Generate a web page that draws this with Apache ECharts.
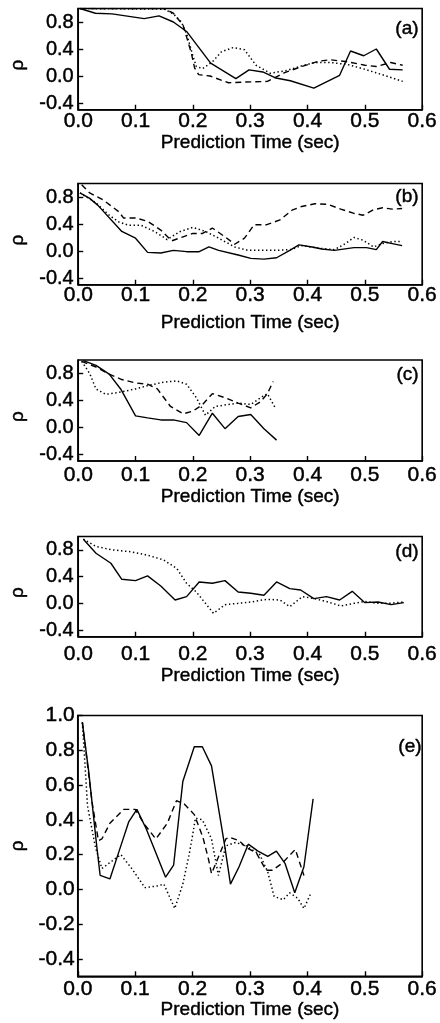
<!DOCTYPE html>
<html><head><meta charset="utf-8">
<script src="https://cdn.jsdelivr.net/npm/echarts@6/dist/echarts.min.js"></script>
<style>html,body{margin:0;padding:0;background:#fff}#c{width:440px;height:1023px}</style>
</head><body><div id="c"></div>
<script>
const panelLabels = ['(a)', '(b)', '(c)', '(d)', '(e)'];
const xAxisTitle = 'Prediction Time (sec)';
const yAxisTitle = 'ρ';
const yTicksSmall = [-0.4, 0.0, 0.4, 0.8];
const yTicksLarge = [-0.4, -0.2, 0.0, 0.2, 0.4, 0.6, 0.8, 1.0];

// Panel (a)
const aSolid = [[0.003,1.0],[0.03,0.93],[0.059,0.92],[0.115,0.85],[0.141,0.89],[0.166,0.80],[0.189,0.66],[0.231,0.19],[0.275,-0.04],[0.298,0.09],[0.322,0.06],[0.345,-0.03],[0.37,-0.07],[0.411,-0.18],[0.456,0.01],[0.475,0.37],[0.498,0.30],[0.52,0.40],[0.543,0.10],[0.566,0.09]];
const aDash = [[0.003,1.0],[0.149,1.0],[0.166,0.93],[0.183,0.75],[0.197,0.35],[0.203,0.12],[0.21,0.02],[0.23,0.0],[0.262,-0.1],[0.29,-0.09],[0.33,-0.08],[0.36,0.05],[0.39,0.14],[0.42,0.22],[0.44,0.24],[0.47,0.21],[0.5,0.16],[0.52,0.14],[0.545,0.2],[0.566,0.16]];
const aDot = [[0.003,1.0],[0.15,0.99],[0.166,0.92],[0.18,0.8],[0.19,0.6],[0.2,0.3],[0.206,0.14],[0.217,0.11],[0.234,0.21],[0.25,0.36],[0.27,0.42],[0.29,0.39],[0.31,0.16],[0.335,0.04],[0.363,0.08],[0.39,0.15],[0.413,0.2],[0.44,0.2],[0.47,0.17],[0.5,0.1],[0.53,0.02],[0.566,-0.08]];

// Panel (b)
const bSolid = [[0.003,0.86],[0.02,0.78],[0.034,0.68],[0.076,0.29],[0.1,0.19],[0.121,-0.02],[0.144,-0.03],[0.166,0.01],[0.189,-0.01],[0.211,-0.01],[0.228,0.06],[0.245,0.01],[0.279,-0.06],[0.301,-0.11],[0.324,-0.12],[0.346,-0.1],[0.369,0.01],[0.385,0.09],[0.408,0.06],[0.425,0.03],[0.447,0.01],[0.481,0.05],[0.503,0.05],[0.52,0.02],[0.531,0.14],[0.548,0.11],[0.565,0.08]];
const bDash = [[0.006,0.98],[0.02,0.86],[0.043,0.76],[0.071,0.58],[0.079,0.49],[0.1,0.49],[0.121,0.44],[0.144,0.31],[0.163,0.15],[0.183,0.21],[0.2,0.26],[0.217,0.26],[0.234,0.34],[0.256,0.21],[0.273,0.1],[0.29,0.19],[0.307,0.39],[0.329,0.39],[0.352,0.46],[0.374,0.61],[0.39,0.66],[0.413,0.7],[0.436,0.69],[0.458,0.62],[0.48,0.56],[0.497,0.53],[0.515,0.61],[0.531,0.64],[0.548,0.62],[0.565,0.63]];
const bDot = [[0.003,0.86],[0.03,0.72],[0.054,0.53],[0.071,0.43],[0.088,0.38],[0.11,0.38],[0.133,0.29],[0.155,0.17],[0.178,0.29],[0.2,0.35],[0.222,0.29],[0.245,0.19],[0.273,0.06],[0.296,0.01],[0.324,0.01],[0.346,0.01],[0.37,0.02],[0.39,0.08],[0.42,0.04],[0.447,0.02],[0.464,0.1],[0.481,0.2],[0.497,0.16],[0.515,0.06],[0.531,0.11],[0.548,0.14],[0.565,0.14]];

// Panel (c)
const cSolid = [[0.009,0.99],[0.031,0.92],[0.054,0.79],[0.074,0.57],[0.1,0.17],[0.121,0.14],[0.144,0.11],[0.166,0.11],[0.189,0.07],[0.211,-0.12],[0.234,0.21],[0.256,-0.02],[0.279,0.16],[0.301,0.19],[0.324,-0.02],[0.346,-0.19]];
const cDash = [[0.006,0.98],[0.03,0.9],[0.054,0.79],[0.076,0.71],[0.1,0.66],[0.121,0.64],[0.138,0.57],[0.161,0.31],[0.183,0.2],[0.2,0.24],[0.217,0.34],[0.234,0.5],[0.256,0.44],[0.279,0.36],[0.301,0.29],[0.318,0.38],[0.33,0.5],[0.34,0.68]];
const cDot = [[0.006,0.98],[0.02,0.8],[0.031,0.57],[0.048,0.49],[0.071,0.52],[0.1,0.57],[0.121,0.62],[0.149,0.67],[0.172,0.69],[0.189,0.64],[0.206,0.44],[0.222,0.18],[0.239,0.31],[0.262,0.34],[0.279,0.36],[0.301,0.34],[0.318,0.44],[0.33,0.5],[0.343,0.3]];

// Panel (d)
const dSolid = [[0.009,0.96],[0.031,0.75],[0.057,0.6],[0.076,0.36],[0.1,0.34],[0.121,0.41],[0.144,0.26],[0.169,0.05],[0.189,0.1],[0.211,0.32],[0.234,0.3],[0.256,0.34],[0.279,0.17],[0.301,0.15],[0.324,0.12],[0.346,0.32],[0.369,0.22],[0.388,0.2],[0.411,0.07],[0.433,0.1],[0.456,0.05],[0.478,0.18],[0.5,0.01],[0.523,0.02],[0.546,-0.02],[0.568,0.01]];
const dDot = [[0.009,0.96],[0.031,0.85],[0.06,0.8],[0.093,0.77],[0.121,0.72],[0.149,0.65],[0.172,0.52],[0.189,0.3],[0.206,0.17],[0.222,0.0],[0.236,-0.15],[0.256,-0.02],[0.279,0.0],[0.301,0.02],[0.329,0.06],[0.352,0.05],[0.369,-0.05],[0.391,0.1],[0.413,0.07],[0.436,0.02],[0.458,-0.04],[0.481,0.0],[0.5,0.03],[0.52,0.0],[0.543,0.0],[0.568,0.02]];

// Panel (e)
const eSolid = [[0.008,0.96],[0.019,0.68],[0.033,0.25],[0.039,0.08],[0.056,0.06],[0.072,0.22],[0.089,0.39],[0.103,0.46],[0.119,0.35],[0.136,0.21],[0.153,0.07],[0.167,0.14],[0.183,0.62],[0.203,0.82],[0.217,0.82],[0.233,0.71],[0.256,0.25],[0.266,0.03],[0.281,0.13],[0.297,0.26],[0.314,0.22],[0.331,0.19],[0.346,0.22],[0.361,0.15],[0.378,-0.02],[0.394,0.13],[0.41,0.52]];
const eDash = [[0.008,0.96],[0.025,0.5],[0.036,0.28],[0.042,0.29],[0.056,0.38],[0.08,0.46],[0.1,0.46],[0.117,0.37],[0.136,0.29],[0.156,0.38],[0.172,0.51],[0.186,0.49],[0.203,0.43],[0.218,0.3],[0.228,0.17],[0.233,0.09],[0.258,0.29],[0.264,0.3],[0.281,0.28],[0.294,0.24],[0.311,0.21],[0.328,0.11],[0.339,0.11],[0.356,0.15],[0.379,0.23],[0.394,0.08]];
const eDot = [[0.008,0.96],[0.017,0.48],[0.028,0.29],[0.031,0.24],[0.042,0.12],[0.075,0.2],[0.094,0.12],[0.117,0.01],[0.139,0.02],[0.15,0.03],[0.169,-0.11],[0.183,0.03],[0.194,0.2],[0.2,0.31],[0.205,0.41],[0.217,0.4],[0.233,0.29],[0.245,0.08],[0.258,0.25],[0.275,0.27],[0.294,0.25],[0.317,0.2],[0.331,0.1],[0.342,-0.04],[0.358,-0.06],[0.369,-0.02],[0.383,-0.05],[0.394,-0.11],[0.405,-0.03]];

const FONT = "'Liberation Sans', Arial, sans-serif";
const TB = {textBorderColor:'#000', textBorderWidth:0.45};
const layout = [
  {grid:{left:68,right:16,top:8.5,height:101.25}, labelMargin:1, nameGap:17, labelTop:19, yTicks:yTicksSmall},
  {grid:{left:68,right:16,top:183.5,height:101.25}, labelMargin:0, nameGap:29, labelTop:187, yTicks:yTicksSmall},
  {grid:{left:68,right:16,top:360,height:101}, labelMargin:4, nameGap:22, labelTop:365, yTicks:yTicksSmall},
  {grid:{left:68,right:15,top:536.5,height:100.25}, labelMargin:7, nameGap:28, labelTop:542, yTicks:yTicksSmall},
  {grid:{left:66.5,right:12,top:715.5,height:260.8}, labelMargin:2, nameGap:24, labelTop:737, yTicks:yTicksLarge}
];
const panelSeries = [
  [aSolid, aDash, aDot],
  [bSolid, bDash, bDot],
  [cSolid, cDash, cDot],
  [dSolid, null, dDot],
  [eSolid, eDash, eDot]
];
const styles = ['solid', [6, 4], [1.4, 2.6]];

const grids = [], xAxes = [], yAxes = [], series = [], titles = [];
layout.forEach((p, i) => {
  grids.push(Object.assign({show:true, borderColor:'#000', borderWidth:1.6, backgroundColor:'transparent'}, p.grid));
  xAxes.push({
    type:'value', gridIndex:i, min:0, max:0.6, interval:0.1,
    axisLine:{show:true, onZero:false, lineStyle:{color:'#000', width:1.6}},
    axisTick:{show:true, inside:true, length:5, lineStyle:{color:'#000', width:1.4}},
    splitLine:{show:false},
    axisLabel:Object.assign({color:'#000', fontSize:21, fontFamily:FONT, margin:p.labelMargin, formatter:v=>v.toFixed(1), showMinLabel:true, showMaxLabel:true}, TB),
    name:xAxisTitle, nameLocation:'middle', nameGap:p.nameGap,
    nameTextStyle:Object.assign({color:'#000', fontSize:19, fontFamily:FONT}, TB)
  });
  yAxes.push({
    type:'value', gridIndex:i, min:-0.5, max:1.0,
    axisLine:{show:true, onZero:false, lineStyle:{color:'#000', width:1.6}},
    axisTick:{show:true, inside:true, length:5, customValues:p.yTicks, lineStyle:{color:'#000', width:1.4}},
    splitLine:{show:false},
    axisLabel:Object.assign({color:'#000', fontSize:i===4?21:20, fontFamily:FONT, margin:i===4?3:4.5, customValues:p.yTicks, formatter:v=>v.toFixed(1)}, TB),
    name:yAxisTitle, nameLocation:'middle', nameGap:i===4?49:51, nameRotate:90,
    nameTextStyle:Object.assign({color:'#000', fontSize:19, fontFamily:FONT, padding:i===4?[0,0,0,0]:[0,12,0,0]}, TB)
  });
  titles.push({text:panelLabels[i], right:i===4?18:21, top:p.labelTop, padding:0,
    textStyle:Object.assign({color:'#000', fontSize:19, fontWeight:'normal', fontFamily:FONT}, TB)});
  panelSeries[i].forEach((d, k) => {
    if (!d) return;
    series.push({
      type:'line', xAxisIndex:i, yAxisIndex:i, data:d, symbol:'none', silent:true,
      lineStyle:{color:'#000', width:k===2?1.5:1.4, type:styles[k]}, z:3
    });
  });
});

const chart = echarts.init(document.getElementById('c'), null, {renderer:'canvas'});
chart.setOption({animation:false, backgroundColor:'#fff', title:titles, grid:grids, xAxis:xAxes, yAxis:yAxes, series:series});
</script></body></html>
